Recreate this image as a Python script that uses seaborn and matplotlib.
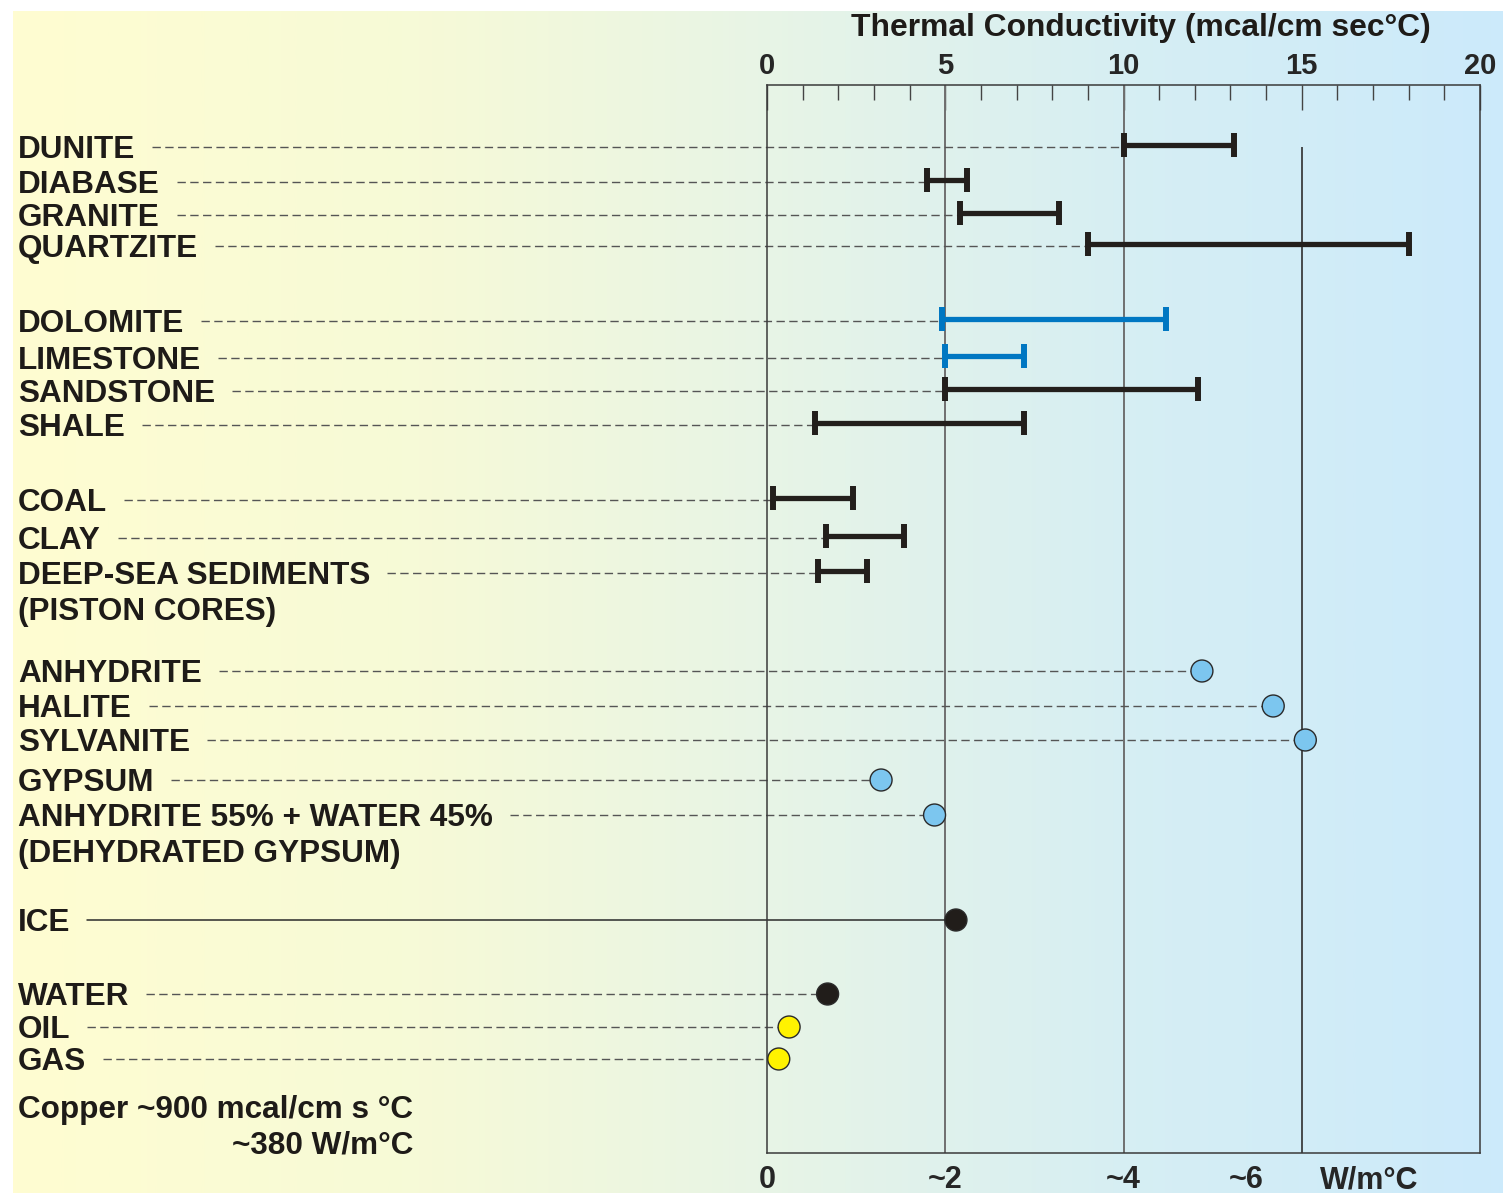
import numpy as np
import pandas as pd
import matplotlib
matplotlib.use("Agg")
import matplotlib.pyplot as plt
import matplotlib.transforms as mtransforms
from matplotlib.colors import LinearSegmentedColormap
import seaborn as sns

# ---------------- data ----------------
range_labels = ["DUNITE", "DIABASE", "GRANITE", "QUARTZITE",
                "DOLOMITE", "LIMESTONE", "SANDSTONE", "SHALE",
                "COAL", "CLAY", "DEEP-SEA SEDIMENTS"]
range_low = [10.0, 4.5, 5.4, 9.0, 4.9, 5.0, 5.0, 1.35, 0.17, 1.65, 1.43]
range_high = [13.1, 5.6, 8.2, 18.0, 11.2, 7.2, 12.1, 7.2, 2.4, 3.85, 2.8]
range_group = ["rock", "rock", "rock", "rock", "carbonate", "carbonate",
               "rock", "rock", "rock", "rock", "rock"]

point_labels = ["ANHYDRITE", "HALITE", "SYLVANITE", "GYPSUM",
                "ANHYDRITE 55% + WATER 45%", "ICE", "WATER", "OIL", "GAS"]
point_values = [12.2, 14.2, 15.1, 3.2, 4.7, 5.3, 1.7, 0.62, 0.33]
point_group = ["salt", "salt", "salt", "salt", "salt", "ice", "water",
               "hydrocarbon", "hydrocarbon"]

sub_labels = {"DEEP-SEA SEDIMENTS": "(PISTON CORES)",
              "ANHYDRITE 55% + WATER 45%": "(DEHYDRATED GYPSUM)"}

top_ticks = [0, 5, 10, 15, 20]
si_tick_labels = ["0", "~2", "~4", "~6", "W/m°C"]

# ---------------- layout (pixel rows) ----------------
W, H = 1503, 1193
range_rows = [147, 182, 215, 246, 321, 358, 391, 425, 500, 538, 573]
point_rows = [671, 706, 740, 780, 815, 920, 994, 1027, 1059]
si_tick_pos = [0, 5, 10, 13.45, 16.9]
ax_left, ax_right, ax_top, ax_bottom = 767, 1480, 85, 1153

colors = {"rock": "#231f1c", "carbonate": "#0077c2",
          "salt": "#7cc6ef", "ice": "#211d1a", "water": "#211d1a",
          "hydrocarbon": "#fff200"}

sns.set_style("white")
plt.rcParams["font.family"] = ["Liberation Sans", "DejaVu Sans"]
plt.rcParams["font.weight"] = "bold"

LABEL_FS = 22.7
fig = plt.figure(figsize=(W / 100, H / 100), dpi=100)

# background gradient
bg = fig.add_axes([13 / W, 0, 1 - 13 / W, 1 - 11 / H], zorder=-10)
cmap = LinearSegmentedColormap.from_list(
    "bg", [(0.0, (1.0, 0.992, 0.82)), (0.28, (0.965, 0.98, 0.845)),
           (0.52, (0.905, 0.957, 0.905)), (0.75, (0.84, 0.935, 0.955)),
           (1.0, (0.80, 0.918, 0.985))])
bg.imshow(np.linspace(0, 1, 512)[None, :], aspect="auto", cmap=cmap,
          extent=[0, 1, 0, 1])
bg.set_axis_off()

ax = fig.add_axes([ax_left / W, 1 - ax_bottom / H,
                   (ax_right - ax_left) / W, (ax_bottom - ax_top) / H])
ax.patch.set_alpha(0)
ax.set_xlim(0, 20)
ax.set_ylim(ax_bottom, ax_top)
for s in ax.spines.values():
    s.set_color("#3a3a3a")
    s.set_linewidth(1.1)
    s.set_visible(True)

# grid lines
for xv in (5, 10):
    ax.axvline(xv, color="#6f6f6f", lw=1.4, zorder=1)
ax.vlines(15, 147, ax_bottom, color="#2f2f2f", lw=1.2, zorder=1)

# ticks
ax.xaxis.tick_top()
ax.set_xticks(top_ticks)
ax.set_xticklabels([str(t) for t in top_ticks], fontsize=21, fontweight="bold")
ax.set_xticks([i for i in range(1, 20) if i % 5], minor=True)
ax.tick_params(axis="x", which="major", direction="in", length=18, width=1.0,
               color="#444444", pad=3.5, top=True, bottom=False)
ax.tick_params(axis="x", which="minor", direction="in", length=11, width=1.0,
               color="#444444", top=True, bottom=False)
ax.set_yticks([])

sec = ax.secondary_xaxis("bottom")
sec.set_xticks(si_tick_pos)
sec.set_xticklabels(si_tick_labels, fontsize=22, fontweight="bold")
sec.tick_params(length=0, pad=9)
sec.spines["bottom"].set_visible(False)

# labels
lab_tr = mtransforms.blended_transform_factory(fig.transFigure, ax.transData)
label_x = 18 / W
text_objs = []
for lab, y, lo in zip(range_labels, range_rows, range_low):
    t = ax.text(label_x, y + 11, lab, transform=lab_tr, fontsize=LABEL_FS,
                fontweight="bold", color="#1e1b18", ha="left", va="baseline",
                clip_on=False)
    text_objs.append((t, y, lo, "dash"))
for lab, y, v, g in zip(point_labels, point_rows, point_values, point_group):
    t = ax.text(label_x, y + 11, lab, transform=lab_tr, fontsize=LABEL_FS,
                fontweight="bold", color="#1e1b18", ha="left", va="baseline",
                clip_on=False)
    text_objs.append((t, y, v, "solid" if g == "ice" else "dash"))

all_labels = range_labels + point_labels
all_rows = range_rows + point_rows
for lab, sub in sub_labels.items():
    y = all_rows[all_labels.index(lab)]
    ax.text(label_x, y + 47, sub, transform=lab_tr, fontsize=LABEL_FS,
            fontweight="bold", color="#1e1b18", ha="left", va="baseline",
            clip_on=False)

fig.canvas.draw()
renderer = fig.canvas.get_renderer()
inv = ax.transData.inverted()
for t, y, xend, style in text_objs:
    bb = t.get_window_extent(renderer)
    x0 = inv.transform((bb.x1 + 17, 0))[0]
    if style == "solid":
        ax.plot([x0, xend], [y, y], color="#2a2a2a", lw=1.1, clip_on=False,
                zorder=2)
    else:
        ax.plot([x0, xend], [y, y], color="#555555", lw=1.0, clip_on=False,
                dashes=(6, 3.2), zorder=2)

# range bars
for lo, hi, y, g in zip(range_low, range_high, range_rows, range_group):
    ax.errorbar((lo + hi) / 2, y - 2, xerr=(hi - lo) / 2, fmt="none",
                ecolor=colors[g], elinewidth=3.8, capsize=8.5, capthick=4.3,
                zorder=4)

# points
df = pd.DataFrame({"value": point_values, "row": point_rows,
                   "group": point_group})
sns.scatterplot(data=df, x="value", y="row", hue="group", palette=colors,
                s=250, edgecolor="#2a2a2a", linewidth=1.0, legend=False,
                ax=ax, zorder=5, clip_on=False)
ax.set_xlabel("")
ax.set_ylabel("")

# titles / notes
fig.text(1141 / W, 1 - 28 / H, "Thermal Conductivity (mcal/cm sec°C)",
         fontsize=22.9, fontweight="bold", color="#1e1b18",
         ha="center", va="center")
fig.text(18 / W, 1 - 1110 / H, "Copper ~900 mcal/cm s °C", fontsize=22.7,
         fontweight="bold", color="#1e1b18", ha="left", va="center")
fig.text(413 / W, 1 - 1145 / H, "~380 W/m°C", fontsize=22.7,
         fontweight="bold", color="#1e1b18", ha="right", va="center")

fig.savefig("out.png", dpi=100)
